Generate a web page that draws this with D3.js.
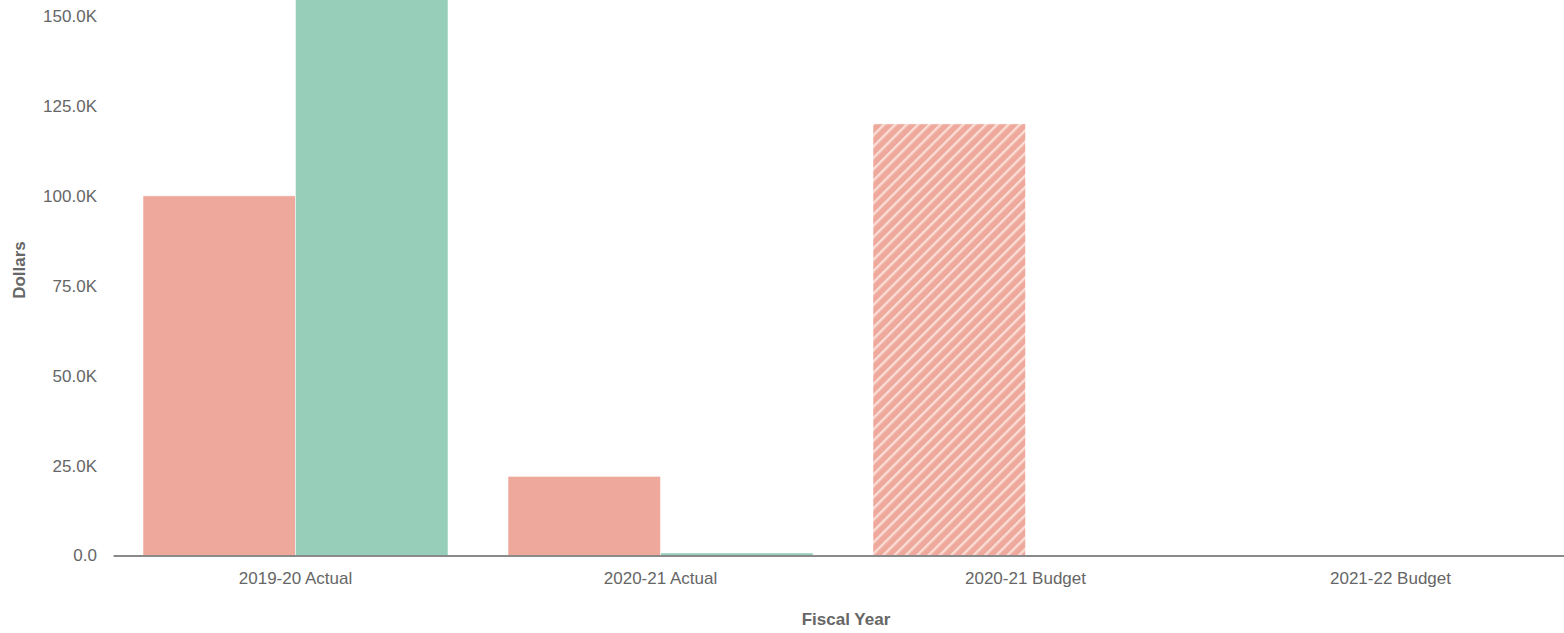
<!DOCTYPE html>
<html>
<head>
<meta charset="utf-8">
<script src="https://cdn.jsdelivr.net/npm/d3@7"></script>
<style>
  html, body { margin: 0; padding: 0; background: #fff; }
  svg { display: block; font-family: "Liberation Sans", Arial, sans-serif; }
</style>
</head>
<body>
<svg id="chart" width="1564" height="633"></svg>
<script>
// Fiscal-year categories and the two series plotted for each
const categories = ["2019-20 Actual", "2020-21 Actual", "2020-21 Budget", "2021-22 Budget"];
const seriesNames = ["Expenses", "Revenues"];
const expenses = [100000, 22000, 120000, 0];
const revenues = [175000, 700, 0, 0];
// Budget columns are drawn with a striped fill
const isBudget = [false, false, true, true];
const yTicks = [0, 25000, 50000, 75000, 100000, 125000, 150000];
const colors = ["#EFA99C", "#96CEBA"];

const svg = d3.select("#chart");
const W = 1564, H = 633;
const x0 = 113, x1 = 1573, yBase = 555.5, y150 = 16;
const fontSize = "17px";

const x = d3.scaleBand().domain(categories).range([x0, x1]).paddingInner(0).paddingOuter(0);
const y = d3.scaleLinear().domain([0, 150000]).range([yBase, y150]);
const inner = d3.scaleBand().domain(seriesNames).range([30, x.bandwidth() - 30]);

// Diagonal stripe patterns for budget bars
const defs = svg.append("defs");
colors.forEach((c, i) => {
  const p = defs.append("pattern")
    .attr("id", "hatch" + i)
    .attr("patternUnits", "userSpaceOnUse")
    .attr("width", 8).attr("height", 8)
    .attr("patternTransform", "rotate(45)");
  p.append("rect").attr("width", 8).attr("height", 8).attr("fill", c);
  p.append("rect").attr("x", 0).attr("width", 2.4).attr("height", 8).attr("fill", "#f9ddd6");
});
defs.append("clipPath").attr("id", "plotClip")
  .append("rect").attr("x", 0).attr("y", 0).attr("width", W).attr("height", yBase);

// Y axis tick labels
const yAxis = d3.axisLeft(y).tickValues(yTicks)
  .tickFormat(d => d === 0 ? "0.0" : d3.format(".1f")(d / 1000) + "K")
  .tickSize(0).tickPadding(0);
const gy = svg.append("g").attr("transform", "translate(97,0)").call(yAxis);
gy.select(".domain").remove();
gy.selectAll("text").attr("fill", "#666").style("font-size", fontSize)
  .style("font-family", "'Liberation Sans', Arial, sans-serif");

// Bars
const rows = categories.map((c, i) => ({ cat: c, vals: [expenses[i], revenues[i]], budget: isBudget[i] }));
const bars = svg.append("g").attr("clip-path", "url(#plotClip)");
rows.forEach(r => {
  r.vals.forEach((v, j) => {
    if (v <= 0) return;
    bars.append("rect")
      .attr("x", x(r.cat) + inner(seriesNames[j]))
      .attr("width", inner.bandwidth())
      .attr("y", y(v))
      .attr("height", yBase - y(v))
      .attr("fill", r.budget ? "url(#hatch" + j + ")" : colors[j])
      .attr("stroke", "#ffffff").attr("stroke-opacity", 0.5).attr("stroke-width", 1);
  });
});

// X axis
const xAxis = d3.axisBottom(x).tickSize(0).tickPadding(16);
const gx = svg.append("g").attr("transform", `translate(0,${yBase})`).call(xAxis);
gx.select(".domain").attr("stroke", "#8a8a8a").attr("stroke-width", 2);
gx.selectAll("text").attr("fill", "#666").style("font-size", fontSize)
  .style("font-family", "'Liberation Sans', Arial, sans-serif");

// Axis titles
svg.append("text").attr("x", 846).attr("y", 625).attr("text-anchor", "middle")
  .attr("fill", "#666").style("font-weight", "bold").style("font-size", fontSize)
  .text("Fiscal Year");
svg.append("text").attr("transform", "translate(25,270) rotate(-90)").attr("text-anchor", "middle")
  .attr("fill", "#666").style("font-weight", "bold").style("font-size", fontSize)
  .text("Dollars");
</script>
</body>
</html>
